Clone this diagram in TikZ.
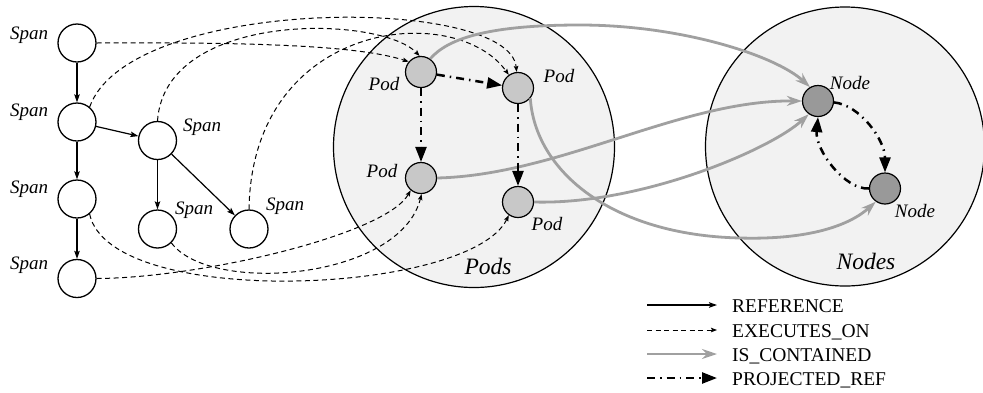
\documentclass[tikz,border=0pt]{standalone}
\usepackage{fontspec}
\setmainfont{Liberation Serif}
\usetikzlibrary{arrows.meta}
\definecolor{bigfill}{HTML}{F2F2F2}
\definecolor{podfill}{HTML}{C8C8C8}
\definecolor{nodefill}{HTML}{999999}
\definecolor{contgray}{HTML}{A0A0A0}
\begin{document}
\begin{tikzpicture}[x=1pt,y=-1pt,
  spanc/.style={circle,draw=black,line width=1.3pt,fill=white,minimum size=38pt,inner sep=0pt},
  podc/.style={circle,draw=black,line width=1.2pt,fill=podfill,minimum size=31pt,inner sep=0pt},
  nodec/.style={circle,draw=black,line width=1.2pt,fill=nodefill,minimum size=31pt,inner sep=0pt},
  bigc/.style={circle,draw=black,line width=1.2pt,fill=bigfill,inner sep=0pt},
  lbl/.style={font=\fontsize{19}{22}\selectfont\itshape,inner sep=0pt,anchor=base},
  biglbl/.style={font=\fontsize{23.5}{27}\selectfont\itshape,inner sep=0pt,anchor=base},
  leg/.style={font=\fontsize{19.5}{22}\selectfont,inner sep=0pt,anchor=base west},
  refe/.style={line width=1.2pt,-{Stealth[length=8pt,width=5.5pt,inset=1.5pt]}},
  exec/.style={line width=1pt,dash pattern=on 5pt off 3.5pt,-{Stealth[length=6pt,width=4.5pt,inset=1pt]}},
  cont/.style={line width=2.8pt,draw=contgray,-{Stealth[length=15pt,width=10pt,inset=5pt]}},
  proj/.style={line width=2.5pt,dash pattern=on 8pt off 5pt on 1.5pt off 5pt,-{Triangle[length=15pt,width=11pt]}},
]
\useasboundingbox (0,0) rectangle (983,392);
% containers
\node[bigc,minimum size=281pt] (pods) at (474,147) {};
\node[bigc,minimum size=279pt] (nodes) at (845,146.5) {};
\node[biglbl] (podsl) at (488,274) {Pods};
\node[biglbl] (nodesl) at (866,269) {Nodes};
% spans
\node[spanc] (S1) at (77,43) {};
\node[spanc] (S2) at (77,122) {};
\node[spanc] (S3) at (77,199) {};
\node[spanc] (S4) at (77,278.5) {};
\node[spanc] (S5) at (157.5,140.5) {};
\node[spanc] (S6) at (157.5,229) {};
\node[spanc] (S7) at (249,229) {};
\node[lbl] (lS1) at (29,39) {Span};
\node[lbl] (lS2) at (29,116) {Span};
\node[lbl] (lS3) at (29,193) {Span};
\node[lbl] (lS4) at (29,269) {Span};
\node[lbl] (lS5) at (202,131) {Span};
\node[lbl] (lS6) at (194,214) {Span};
\node[lbl] (lS7) at (285,210) {Span};
% pods
\node[podc] (P1) at (421,72) {};
\node[podc] (P2) at (518,88) {};
\node[podc] (P3) at (421,178) {};
\node[podc] (P4) at (518,202) {};
\node[lbl] (lP1) at (384,90) {Pod};
\node[lbl] (lP2) at (559,82) {Pod};
\node[lbl] (lP3) at (382,177) {Pod};
\node[lbl] (lP4) at (547,230) {Pod};
% nodes
\node[nodec] (N1) at (818,101) {};
\node[nodec] (N2) at (885,188.5) {};
\node[lbl] (lN1) at (850,89) {Node};
\node[lbl] (lN2) at (915,217) {Node};
% REFERENCE
\draw[refe] (S1) -- (S2);
\draw[refe] (S2) -- (S3);
\draw[refe] (S3) -- (S4);
\draw[refe] (S2) -- (S5);
\draw[refe] (S5) -- (S6);
\draw[refe] (S5) -- (S7);
% EXECUTES_ON
\draw[exec] (S1.east) .. controls (260,42) and (360,46) .. (P1.140);
\draw[exec] (S2.50) .. controls (130,-5) and (510,-5) .. (P2.95);
\draw[exec] (S5.north) .. controls (165,10) and (380,15) .. (P1.95);
\draw[exec] (S7.north) .. controls (252,20) and (455,0) .. (P2.125);
\draw[exec] (S4.east) .. controls (200,278) and (385,235) .. (P3.230);
\draw[exec] (S6.-45) .. controls (210,295) and (400,280) .. (P3.-88);
\draw[exec] (S3.-50) .. controls (110,310) and (470,295) .. (P4.-125);
% IS_CONTAINED
\draw[cont] (P1.55) .. controls (448,38) and (490,25) .. (580,25) .. controls (680,25) and (775,55) .. (N1.120);
\draw[cont] (P2.-40) .. controls (535,170) and (610,235) .. (740,238) .. controls (810,240) and (850,225) .. (N2.-125);
\draw[cont] (P3.east) .. controls (560,175) and (680,100) .. (N1.west);
\draw[cont] (P4.east) .. controls (640,205) and (770,150) .. (N1.-125);
% PROJECTED_REF
\draw[proj] (P1) -- (P2);
\draw[proj] (P1) -- (P3);
\draw[proj] (P2) -- (P4);
\draw[proj] (N1.-5) .. controls (860,105) and (885,140) .. (N2.north);
\draw[proj] (N2.west) .. controls (845,190) and (815,150) .. (N1.south);
% legend
\coordinate (la1) at (647,305); \coordinate (lb1) at (717,305);
\coordinate (la2) at (647,330); \coordinate (lb2) at (717,330);
\coordinate (la3) at (647,354); \coordinate (lb3) at (717,354);
\coordinate (la4) at (647,378); \coordinate (lb4) at (717,378);
\draw[refe] (la1) -- (lb1);
\draw[exec] (la2) -- (lb2);
\draw[cont] (la3) -- (lb3);
\draw[proj] (la4) -- (lb4);
\node[leg] (t1) at (732,312) {REFERENCE};
\node[leg] (t2) at (732,337) {EXECUTES\_ON};
\node[leg] (t3) at (732,361) {IS\_CONTAINED};
\node[leg] (t4) at (732,385) {PROJECTED\_REF};
\end{tikzpicture}
\end{document}
